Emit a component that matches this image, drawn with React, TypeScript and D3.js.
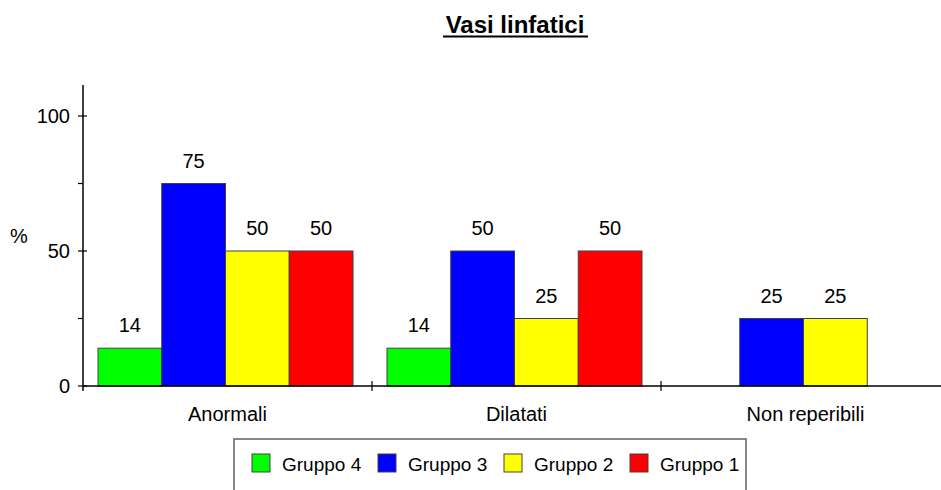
import React from "react";
import * as d3 from "d3";

const categories = ["Anormali", "Dilatati", "Non reperibili"];
const seriesNames = ["Gruppo 4", "Gruppo 3", "Gruppo 2", "Gruppo 1"];
const seriesColors = ["#00FF00", "#0000FF", "#FFFF00", "#FF0000"];
const gruppo4: (number | null)[] = [14, 14, null];
const gruppo3: (number | null)[] = [75, 50, 25];
const gruppo2: (number | null)[] = [50, 25, 25];
const gruppo1: (number | null)[] = [50, 50, null];
const seriesValues = [gruppo4, gruppo3, gruppo2, gruppo1];
const majorTicks = [0, 50, 100];
const minorTicks = [25, 75];

const W = 941;
const H = 490;
const FONT = "'Liberation Sans', Arial, sans-serif";

export default function App() {
  const axisX = 83;
  const y = d3.scaleLinear().domain([0, 100]).range([386, 116]);
  const x0 = d3.scaleBand<string>().domain(categories).range([axisX, axisX + 289 * 3]).paddingInner(0).paddingOuter(0);
  const x1 = d3.scaleBand<string>().domain(seriesNames).range([15, 270]).paddingInner(0).paddingOuter(0);
  const catBoundaries = categories.slice(1).map((c) => x0(c) as number);

  const legendX = 234;
  const legendY = 439;
  const legendStep = 126;

  return (
    <svg width={W} height={H} style={{ position: "absolute", left: 0, top: 0, background: "#fff" }} fontFamily={FONT}>
      <rect x={0} y={0} width={W} height={H} fill="#fff" />
      {/* Title */}
      <text x={515} y={33} textAnchor="middle" fontSize={24} fontWeight="bold" fill="#000">
        Vasi linfatici
      </text>
      <line x1={443} x2={588} y1={36.5} y2={36.5} stroke="#000" strokeWidth={2} />

      {/* Bars */}
      {categories.map((cat, ci) => (
        <g key={cat} transform={`translate(${x0(cat)},0)`}>
          {seriesNames.map((s, si) => {
            const v = seriesValues[si][ci];
            if (v === null || v === undefined) return null;
            const bx = x1(s) as number;
            const bw = x1.bandwidth();
            return (
              <g key={s}>
                <rect x={bx} y={y(v)} width={bw} height={y(0) - y(v)} fill={seriesColors[si]} stroke="#404040" strokeWidth={1} />
                <text x={bx + bw / 2} y={y(v) - 16} textAnchor="middle" fontSize={20} fill="#000">
                  {v}
                </text>
              </g>
            );
          })}
          <text x={x0.bandwidth() / 2} y={421} textAnchor="middle" fontSize={20} fill="#000">
            {cat}
          </text>
        </g>
      ))}

      {/* Y axis */}
      <line x1={axisX} x2={axisX} y1={85} y2={391} stroke="#000" strokeWidth={1.5} />
      {majorTicks.map((t) => (
        <g key={t}>
          <line x1={axisX - 5} x2={axisX + 4} y1={y(t)} y2={y(t)} stroke="#000" strokeWidth={1.2} />
          <text x={70} y={y(t) + 7} textAnchor="end" fontSize={20} fill="#000">
            {t}
          </text>
        </g>
      ))}
      {minorTicks.map((t) => (
        <line key={t} x1={axisX - 5} x2={axisX} y1={y(t)} y2={y(t)} stroke="#000" strokeWidth={1.2} />
      ))}
      <text x={19} y={243} textAnchor="middle" fontSize={20} fill="#000">
        %
      </text>

      {/* X axis */}
      <line x1={axisX} x2={W} y1={y(0)} y2={y(0)} stroke="#000" strokeWidth={1.5} />
      {catBoundaries.map((bx) => (
        <line key={bx} x1={bx} x2={bx} y1={y(0) - 5} y2={y(0) + 5} stroke="#000" strokeWidth={1.2} />
      ))}

      {/* Legend */}
      <rect x={legendX} y={legendY} width={512} height={60} fill="#fff" stroke="#606060" strokeWidth={1.5} />
      {seriesNames.map((s, i) => (
        <g key={s} transform={`translate(${legendX + 18 + i * legendStep},${legendY + 15})`}>
          <rect x={0} y={0} width={18} height={18} fill={seriesColors[i]} stroke="#404040" strokeWidth={1} />
          <text x={30} y={17} fontSize={19} fill="#000">
            {s}
          </text>
        </g>
      ))}
    </svg>
  );
}
